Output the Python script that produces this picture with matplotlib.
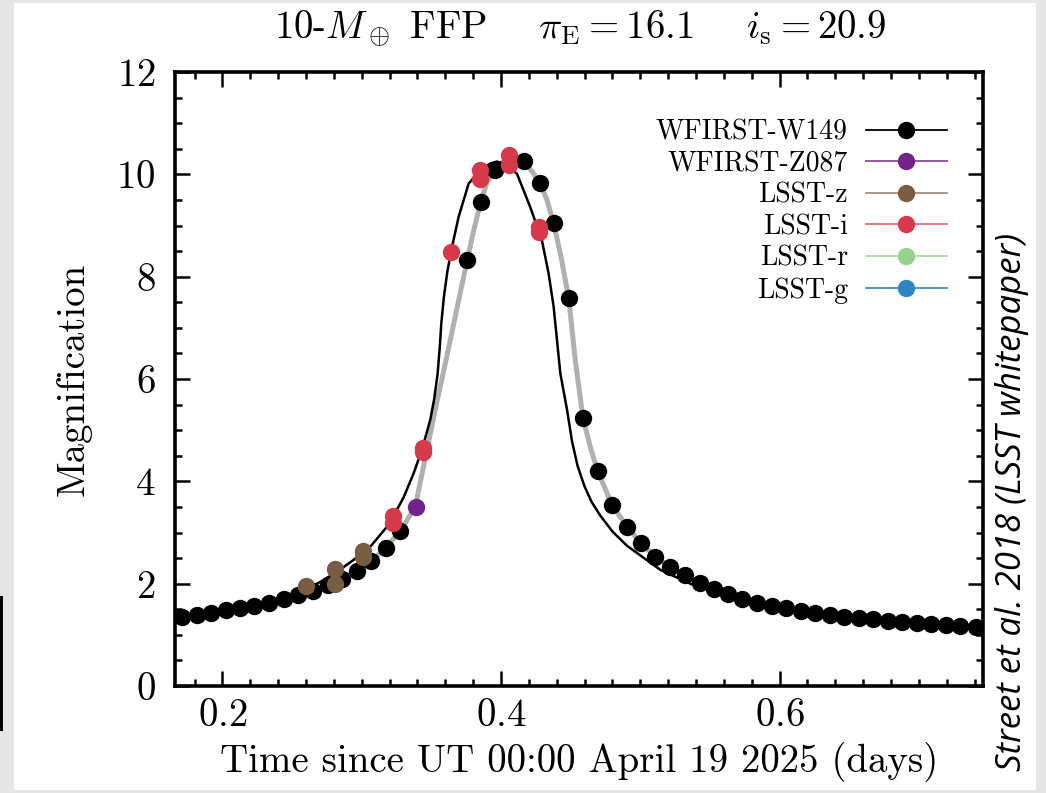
import numpy as np
import matplotlib
matplotlib.use('Agg')
import matplotlib.pyplot as plt
from matplotlib.lines import Line2D
from matplotlib.patches import Rectangle

# magnification curve of a 10 Earth-mass free-floating planet
t_w149 = [0.1708, 0.1816, 0.1916, 0.2024, 0.2127, 0.2230, 0.2335, 0.2443, 0.2546,
          0.2654, 0.2757, 0.2862, 0.2965, 0.3070, 0.3174, 0.3276, 0.3757, 0.3856,
          0.3959, 0.4167, 0.4278, 0.4377, 0.4487, 0.4589, 0.4694, 0.4797, 0.4905,
          0.5006, 0.5108, 0.5216, 0.5319, 0.5427, 0.5527, 0.5630, 0.5733, 0.5839,
          0.5942, 0.6047, 0.6150, 0.6253, 0.6360, 0.6460, 0.6568, 0.6671, 0.6777,
          0.6880, 0.6988, 0.7089, 0.7192, 0.7294, 0.7407]
m_w149 = [1.35, 1.39, 1.43, 1.48, 1.52, 1.57, 1.63, 1.70, 1.78,
          1.86, 1.97, 2.09, 2.25, 2.44, 2.70, 3.02, 8.32, 9.46,
          10.08, 10.26, 9.84, 9.05, 7.58, 5.23, 4.20, 3.54, 3.11,
          2.79, 2.53, 2.32, 2.17, 2.02, 1.89, 1.79, 1.71, 1.63,
          1.57, 1.52, 1.47, 1.43, 1.39, 1.35, 1.32, 1.30, 1.28,
          1.26, 1.24, 1.22, 1.20, 1.18, 1.16]

t_z087 = [0.3389]
m_z087 = [3.50]

t_lsst_z = [0.2601, 0.2809, 0.2809, 0.3013, 0.3013]
m_lsst_z = [1.95, 2.28, 2.00, 2.64, 2.52]

t_lsst_i = [0.3224, 0.3224, 0.3437, 0.3437, 0.3640, 0.3851, 0.3851, 0.4061, 0.4061, 0.4270, 0.4270]
m_lsst_i = [3.32, 3.18, 4.65, 4.58, 8.48, 10.08, 9.90, 10.38, 10.18, 8.98, 8.88]

# model as seen from WFIRST (grey) and from the ground (black)
t_model_space = [0.166, 0.18, 0.20, 0.22, 0.24, 0.255, 0.265, 0.275, 0.285, 0.295,
                 0.305, 0.315, 0.3276, 0.3384, 0.3456, 0.3528, 0.3612, 0.3680, 0.3757,
                 0.3800, 0.3851, 0.3900, 0.3959, 0.4010, 0.4070, 0.4120, 0.4167, 0.4225,
                 0.4282, 0.4330, 0.4378, 0.4430, 0.4486, 0.4534, 0.4589, 0.4641, 0.4694,
                 0.4797, 0.4905, 0.5006, 0.5108, 0.5216, 0.5427, 0.5630, 0.5839, 0.6047,
                 0.6253, 0.6460, 0.6671, 0.6880, 0.7089, 0.7294, 0.745]
m_model_space = [1.34, 1.38, 1.47, 1.56, 1.68, 1.78, 1.85, 1.96, 2.07, 2.23,
                 2.40, 2.64, 3.02, 3.50, 4.45, 5.40, 6.45, 7.33, 8.32,
                 8.85, 9.43, 9.85, 10.08, 10.24, 10.30, 10.29, 10.23, 10.05,
                 9.82, 9.50, 9.04, 8.40, 7.58, 6.35, 5.23, 4.67, 4.20,
                 3.54, 3.11, 2.79, 2.53, 2.32, 2.02, 1.79, 1.63, 1.52,
                 1.43, 1.35, 1.30, 1.26, 1.22, 1.18, 1.155]

t_model_ground = [0.166, 0.19, 0.21, 0.23, 0.25, 0.2582, 0.27, 0.2822, 0.295, 0.3061,
                  0.3181, 0.3228, 0.3300, 0.3372, 0.3432, 0.3492, 0.3520, 0.3545, 0.3560,
                  0.3572, 0.3590, 0.3615, 0.3650, 0.3696, 0.3768, 0.3851, 0.3923, 0.3970,
                  0.4030, 0.4115, 0.4210, 0.4294, 0.4342, 0.4378, 0.4402, 0.4426, 0.4474,
                  0.4510, 0.4550, 0.4600, 0.4650, 0.4713, 0.4800, 0.4905, 0.5144, 0.5383,
                  0.5575, 0.58, 0.60, 0.63, 0.66, 0.70, 0.745]
m_model_ground = [1.34, 1.43, 1.52, 1.63, 1.78, 1.87, 2.03, 2.23, 2.48, 2.72,
                  3.11, 3.32, 3.68, 4.15, 4.61, 5.20, 5.60, 6.10, 6.60,
                  7.10, 7.60, 8.10, 8.60, 9.17, 9.82, 10.08, 10.21, 10.25,
                  10.20, 10.01, 9.36, 8.71, 8.06, 7.41, 6.76, 6.11, 5.40,
                  4.78, 4.30, 3.90, 3.60, 3.33, 3.02, 2.74, 2.27, 1.97,
                  1.81, 1.63, 1.50, 1.39, 1.31, 1.23, 1.16]

bands = ['WFIRST-W149', 'WFIRST-Z087', 'LSST-z', 'LSST-i', 'LSST-r', 'LSST-g']
band_colors = ['#000000', '#74228a', '#7a5c43', '#d8394a', '#93d48a', '#2b86c1']
band_line_colors = ['#000000', '#8a4a9c', '#a38f80', '#e0707c', '#a9dfa1', '#3d91c9']

plt.rcParams['font.family'] = 'serif'
plt.rcParams['font.serif'] = ['cmr10']
plt.rcParams['mathtext.fontset'] = 'cm'
plt.rcParams['axes.formatter.use_mathtext'] = True

fig = plt.figure(figsize=(10.46, 7.93), dpi=100, facecolor='#e6e6e6')
fig.patches.append(Rectangle((14 / 1046, 0.004), 1022 / 1046, 0.992,
                             transform=fig.transFigure, facecolor='white',
                             edgecolor='none', zorder=-10))
fig.patches.append(Rectangle((0, 1 - 731 / 793), 3 / 1046, 135 / 793,
                             transform=fig.transFigure, facecolor='black',
                             edgecolor='none', zorder=-5))

ax = fig.add_axes([175 / 1046, 1 - 686 / 793, 808 / 1046, 614 / 793])

ax.plot(t_model_space, m_model_space, color='#b0b0b0', lw=3.6, zorder=1,
        solid_capstyle='round')
ax.plot(t_model_ground, m_model_ground, color='black', lw=1.8, zorder=2)

ms = 12.5
ax.plot(t_w149, m_w149, 'o', color=band_colors[0], ms=ms, mew=0, zorder=3)
ax.plot(t_z087, m_z087, 'o', color=band_colors[1], ms=ms, mew=0, zorder=4)
ax.plot(t_lsst_z, m_lsst_z, 'o', color=band_colors[2], ms=ms, mew=0, zorder=4)
ax.plot(t_lsst_i, m_lsst_i, 'o', color=band_colors[3], ms=ms, mew=0, zorder=4)

ax.set_xlim(0.166, 0.746)
ax.set_ylim(0, 12)
ax.set_xticks([0.2, 0.4, 0.6])
ax.set_xticks(np.arange(0.18, 0.745, 0.02), minor=True)
ax.set_yticks([0, 2, 4, 6, 8, 10, 12])
ax.set_yticks(np.arange(0, 12.01, 0.5), minor=True)
ax.tick_params(which='both', direction='in', top=True, right=True, width=1.8,
               labelsize=28)
ax.tick_params(axis='x', pad=9)
ax.tick_params(axis='y', pad=14)
ax.tick_params(which='major', length=11)
ax.tick_params(which='minor', length=5)
for s in ax.spines.values():
    s.set_linewidth(2.6)

ax.set_xlabel('Time since UT 00:00 April 19 2025 (days)', fontsize=28, labelpad=5)
ax.set_ylabel('Magnification', fontsize=28, labelpad=18)

handles = [Line2D([], [], color=lc, lw=1.3, marker='o', ms=ms, mfc=c, mec=c, mew=0)
           for c, lc in zip(band_colors, band_line_colors)]
ax.legend(handles, bands, loc='upper right', bbox_to_anchor=(0.979, 0.955),
          frameon=False, markerfirst=False, fontsize=20, handlelength=2.9,
          handletextpad=0.65, labelspacing=0.19, borderpad=0.2)

fig.text(580 / 1046, 1 - 28 / 793,
         r'10-$M_\oplus$ FFP    $\pi_{\rm E} = 16.1$    $i_{\rm s} = 20.9$',
         ha='center', va='center', fontsize=28)

fig.text(1012 / 1046, 1 - 502 / 793, 'Street et al. 2018 (LSST whitepaper)',
         rotation=90, ha='center', va='center', fontsize=25, style='italic',
         family=['Open Sans', 'Noto Sans', 'DejaVu Sans'])

fig.savefig('out.png', dpi=100, facecolor=fig.get_facecolor())
